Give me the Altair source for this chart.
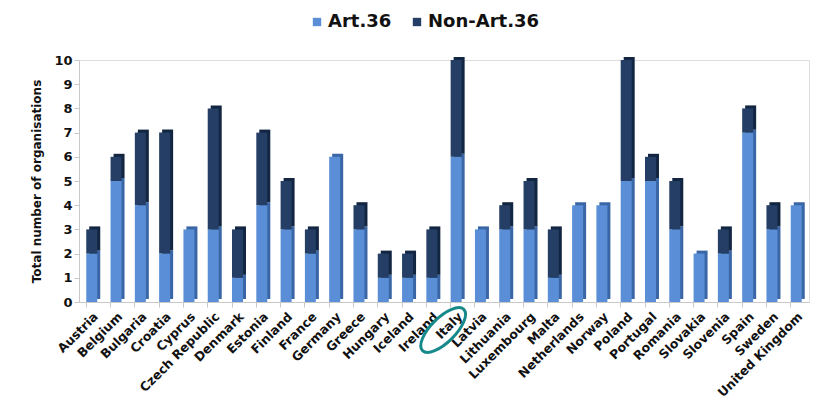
import altair as alt
import pandas as pd

countries = ["Austria", "Belgium", "Bulgaria", "Croatia", "Cyprus", "Czech Republic",
             "Denmark", "Estonia", "Finland", "France", "Germany", "Greece", "Hungary",
             "Iceland", "Ireland", "Italy", "Latvia", "Lithuania", "Luxembourg", "Malta",
             "Netherlands", "Norway", "Poland", "Portugal", "Romania", "Slovakia",
             "Slovenia", "Spain", "Sweden", "United Kingdom"]
art36 = [2, 5, 4, 2, 3, 3, 1, 4, 3, 2, 6, 3, 1, 1, 1, 6, 3, 3, 3, 1, 4, 4, 5, 5, 3, 2, 2, 7, 3, 4]
non_art36 = [1, 1, 3, 5, 0, 5, 2, 3, 2, 1, 0, 1, 1, 1, 2, 4, 0, 1, 2, 2, 0, 0, 5, 1, 2, 0, 1, 1, 1, 0]
series = ["Art.36", "Non-Art.36"]
highlight = ["Italy"]

rows = []
for c, a, n in zip(countries, art36, non_art36):
    rows.append({"country": c, "series": series[0], "value": a, "ord": 0})
    rows.append({"country": c, "series": series[1], "value": n, "ord": 1})
df = pd.DataFrame(rows)

FONT = "DejaVu Sans"
x_enc = alt.X("country:N", sort=countries, title=None,
              scale=alt.Scale(paddingInner=0.55, paddingOuter=0.3),
              axis=alt.Axis(labelAngle=-45, labelFont=FONT, labelFontWeight="bold",
                            labelFontSize=12.5, labelColor="#111", domainColor="#c8c8c8",
                            tickColor="#c8c8c8", tickSize=5, bandPosition=0,
                            labelPadding=3))
y_enc = alt.Y("value:Q", stack="zero",
              title="Total number of organisations",
              scale=alt.Scale(domain=[0, 10]),
              axis=alt.Axis(values=list(range(0, 11)), grid=False, labelFont=FONT,
                            labelFontWeight="bold", labelFontSize=13, labelColor="#111",
                            domainColor="#c8c8c8", tickColor="#c8c8c8", tickSize=5,
                            titleFont=FONT, titleFontSize=12, titleFontWeight="bold",
                            titleColor="#111", titlePadding=10))

shadow = alt.Chart(df).mark_bar(size=11, xOffset=3, yOffset=-3).encode(
    x=x_enc, y=y_enc,
    color=alt.Color("series:N", scale=alt.Scale(domain=series, range=["#3A66A6", "#132641"]),
                    legend=None),
    order=alt.Order("ord:Q"),
)

bars = alt.Chart(df).mark_bar(size=11).encode(
    x=x_enc, y=y_enc,
    color=alt.Color("series:N", scale=alt.Scale(domain=series, range=["#5A8FD8", "#243E65"]),
                    legend=alt.Legend(title=None, orient="none", legendX=229, legendY=-47,
                                      direction="horizontal", symbolType="square",
                                      symbolSize=70, labelFont=FONT, labelFontSize=18,
                                      labelFontWeight="bold", labelColor="#111",
                                      labelOffset=2, columnPadding=16,
                                      symbolStrokeWidth=0)),
    order=alt.Order("ord:Q"),
)

ring = alt.Chart(pd.DataFrame({"country": highlight})).mark_point(
    shape="M -1,0 A 1 0.42 0 1 0 1,0 A 1 0.42 0 1 0 -1,0 Z",
    size=3400, angle=315, filled=False, stroke="#17898A", strokeWidth=3,
    xOffset=-13, opacity=1,
).encode(x=alt.X("country:N", sort=countries), y=alt.value(270))

chart = alt.layer(shadow, bars, ring).resolve_scale(color="independent").properties(
    width=730, height=242,
    padding={"left": 22, "top": 5, "right": 5, "bottom": 5},
).configure_view(stroke=None).configure(background="white")

chart.save("out.html", embed_options={"renderer": "svg", "actions": False})
